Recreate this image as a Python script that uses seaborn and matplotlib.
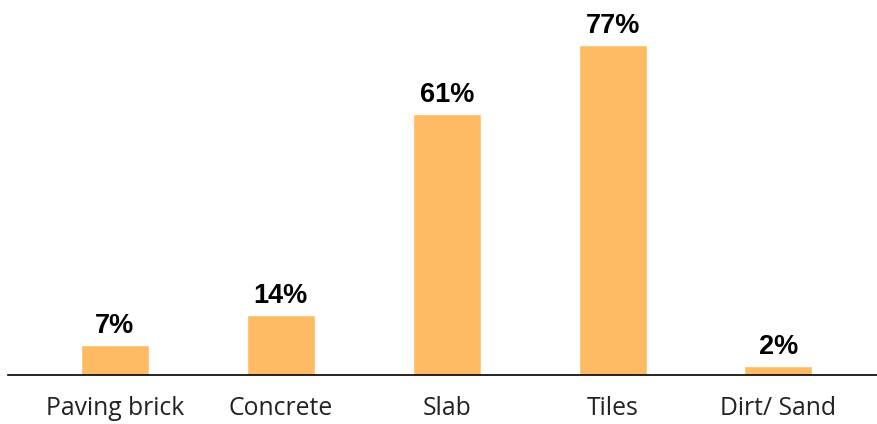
import matplotlib
matplotlib.use("Agg")
import matplotlib.pyplot as plt
import seaborn as sns
import pandas as pd

categories = ["Paving brick", "Concrete", "Slab", "Tiles", "Dirt/ Sand"]
shares = [7, 14, 61, 77, 2]
value_labels = ["7%", "14%", "61%", "77%", "2%"]

df = pd.DataFrame({"surface": categories, "share": shares})

sns.set_theme(style="white")
fig = plt.figure(figsize=(8.78, 4.24), dpi=100)
ax = fig.add_axes([8 / 878, 49 / 424, 870 / 878, 375 / 424])

sns.barplot(data=df, x="surface", y="share", color="#FFBB63", saturation=1,
            width=0.41, ax=ax)

ax.set_xlim(-0.645, 4.6)
ax.set_ylim(0, 87.5)
ax.set_xlabel("")
ax.set_ylabel("")
ax.set_yticks([])
for side in ["top", "right", "left"]:
    ax.spines[side].set_visible(False)
ax.spines["bottom"].set_color("black")
ax.spines["bottom"].set_linewidth(1.2)
ax.tick_params(axis="x", length=0, pad=15)
for t in ax.get_xticklabels():
    t.set_fontfamily(["Open Sans", "DejaVu Sans"])
    t.set_fontsize(17.8)
    t.set_color("#222222")

for i, (v, lab) in enumerate(zip(shares, value_labels)):
    ax.annotate(lab, (i, v), xytext=(0, 8.6), textcoords="offset points",
                ha="center", va="baseline", fontsize=19.5, fontweight="bold",
                family=["Liberation Sans", "DejaVu Sans"], color="black")

fig.savefig("out.png", dpi=100)
